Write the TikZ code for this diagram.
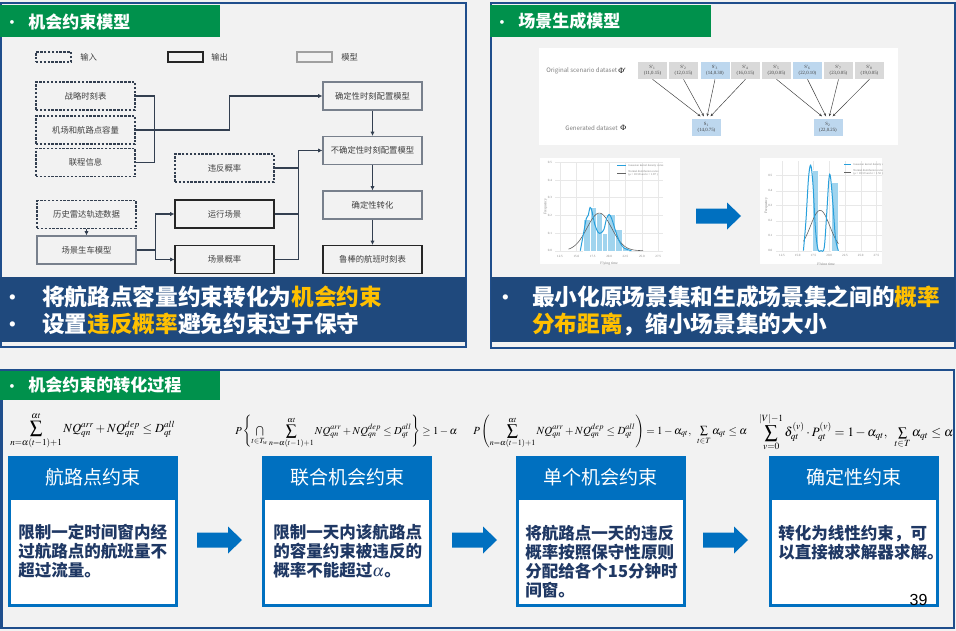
\documentclass[tikz,border=0pt]{standalone}
\usepackage{amsmath}
\usepackage{mathptmx}
\usepackage{graphicx}
\usepackage{fontspec}
\setmainfont{Noto Sans CJK SC}
\newfontfamily\serifl{Liberation Serif}
\newfontfamily\arialf{Liberation Sans}
\usetikzlibrary{arrows.meta,calc}

\definecolor{bgc}{RGB}{242,242,242}
\definecolor{panelc}{RGB}{31,78,140}
\definecolor{greenc}{RGB}{0,145,76}
\definecolor{bannerc}{RGB}{31,73,125}
\definecolor{goldc}{RGB}{255,192,0}
\definecolor{boxblue}{RGB}{0,112,192}
\definecolor{bodyblue}{RGB}{31,56,100}
\definecolor{flowdark}{RGB}{51,63,80}
\definecolor{flowblack}{RGB}{38,38,38}
\definecolor{flowgray}{RGB}{120,128,140}
\definecolor{legendgray}{RGB}{160,160,160}
\definecolor{flowtext}{RGB}{64,64,64}
\definecolor{sgray}{RGB}{217,217,217}
\definecolor{sblue}{RGB}{189,215,238}
\definecolor{gridc}{RGB}{232,232,232}
\definecolor{barc}{RGB}{160,212,238}
\definecolor{kdec}{RGB}{40,160,220}
\definecolor{normc}{RGB}{100,100,100}

\tikzset{
  flow/.style={minimum width=74.25pt, minimum height=21pt, inner sep=0pt,
    font=\fontsize{6.25}{7}\selectfont, text=flowtext, fill=bgc, line width=0.8pt},
  inbox/.style={flow, draw=flowdark, dash pattern=on 1.8pt off 1.1pt},
  outbox/.style={flow, draw=flowblack},
  modelbox/.style={flow, draw=flowgray},
  legendbox/.style={minimum width=26.25pt, minimum height=7.5pt, inner sep=0pt, line width=0.8pt, fill=bgc},
  legendtext/.style={anchor=west, inner sep=0pt, font=\fontsize{6.25}{7}\selectfont, text=flowtext},
  conn/.style={draw=flowdark, line width=0.8pt},
  arr/.style={conn, -{Latex[length=3.2pt,width=3.2pt]}},
  tabtext/.style={anchor=west, inner sep=0pt, text=white, font=\bfseries\fontsize{12.75}{14}\selectfont},
  tabdot/.style={inner sep=0pt, text=white, font=\bfseries\fontsize{10}{12}\selectfont},
  bannertext/.style={anchor=west, inner sep=0pt, text=white, font=\bfseries\fontsize{17}{19}\selectfont},
  bannerdot/.style={inner sep=0pt, text=white, font=\bfseries\fontsize{14}{16}\selectfont},
  boxhead/.style={fill=boxblue, text=white, minimum width=127.5pt, minimum height=32.25pt,
    inner sep=0pt, font=\fontsize{14.25}{16}\selectfont},
  boxbody/.style={fill=white, draw=boxblue, line width=2.25pt, minimum width=125.25pt,
    minimum height=79.9pt, inner sep=0pt},
  bodytext/.style={anchor=north west, align=left, inner sep=0pt, text=bodyblue,
    font=\bfseries\fontsize{12.4}{14.25}\selectfont},
  sbox/.style={minimum width=21.75pt, minimum height=12.75pt, inner sep=0pt, align=center,
    font=\serifl\fontsize{3.6}{4.6}\selectfont, text=flowtext},
  sarr/.style={draw=flowtext, line width=0.35pt, -{Stealth[length=2.2pt,width=1.8pt]}},
  dslabel/.style={anchor=west, inner sep=0pt, text=gray, font=\fontsize{4.6}{5}\selectfont},
  ticklab/.style={inner sep=0pt, text=gray, font=\serifl\fontsize{2.4}{3}\selectfont},
  gridline/.style={draw=gridc, line width=0.3pt},
  bar/.style={fill=barc, draw=white, line width=0.2pt},
  kde/.style={draw=kdec, line width=0.75pt},
  normal/.style={draw=normc, line width=0.45pt},
  tinylab/.style={anchor=west, inner sep=0pt, text=gray, font=\serifl\fontsize{2.2}{2.6}\selectfont},
  blockarrow/.pic={\fill[boxblue] (0,-7.5) -- (31,-7.5) -- (31,-13.5) -- (45,0) -- (31,13.5)
    -- (31,7.5) -- (0,7.5) -- cycle;},
  formula/.style={anchor=west, inner sep=0pt}
}

\begin{document}
\begin{tikzpicture}[x=0.75pt,y=-0.75pt]
\useasboundingbox (0,0) rectangle (956,631);
\fill[bgc] (0,0) rectangle (956,631);

% ---------- panel frames ----------
\draw[panelc, line width=1.5pt] (1,3) rectangle (466,347);
\draw[panelc, line width=1.5pt] (491,3) rectangle (954.5,348);
\draw[panelc, line width=1.5pt] (1.5,370) rectangle (953.5,628);

% ---------- panel: chance constraint model ----------
\fill[greenc] (0,5.5) rectangle (220,37);
\node[tabdot] (tabAd) at (12,24.5) {•};
\node[tabtext] (tabA) at (28,21.5) {机会约束模型};

\node[legendbox, draw=flowdark, dash pattern=on 1.8pt off 1.1pt] (lgIn) at (53.5,57) {};
\node[legendtext] (lgInT) at (80,57) {输入};
\node[legendbox, draw=flowblack] (lgOut) at (185.5,57) {};
\node[legendtext] (lgOutT) at (211,57) {输出};
\node[legendbox, draw=legendgray] (lgMod) at (314.5,57) {};
\node[legendtext] (lgModT) at (341,57) {模型};

\node[inbox] (sched) at (85.5,96) {战略时刻表};
\node[inbox] (cap) at (85.5,130) {机场和航路点容量};
\node[inbox] (link) at (85.5,162.5) {联程信息};
\node[modelbox] (detm) at (372.5,96) {确定性时刻配置模型};
\node[modelbox] (uncm) at (372.5,150.5) {不确定性时刻配置模型};
\node[inbox] (viol) at (224.5,168) {违反概率};
\node[modelbox] (conv) at (372.5,205) {确定性转化};
\node[inbox] (radar) at (86.5,214.5) {历史雷达轨迹数据};
\node[modelbox] (scen) at (86.5,250) {场景生车模型};
\node[outbox] (oper) at (224.5,214) {运行场景};
\node[outbox] (prob) at (224.5,259.5) {场景概率};
\node[outbox] (robust) at (372.5,259.5) {鲁棒的航班时刻表};

\draw[conn] (sched.east) -- ++(19,0) |- (link.east);
\draw[arr] (cap.east) -- ++(94,0) |- (detm.west);
\draw[arr] (detm.south) -- (uncm.north);
\draw[conn] (viol.east) -- ++(24,0);
\draw[conn] (oper.east) -- ++(24,0);
\draw[arr] (prob.east) -- ++(24,0) |- (uncm.west);
\draw[arr] (uncm.south) -- (conv.north);
\draw[arr] (conv.south) -- (robust.north);
\draw[arr] (radar.south) -- (scen.north);
\draw[arr] (scen.east) -- ++(19,0) |- (oper.west);
\draw[arr] (scen.east) -- ++(19,0) |- (prob.west);

\fill[bannerc] (0,276.5) rectangle (466,342);
\node[bannerdot] (bA1d) at (13,300) {•};
\node[bannertext] (bA1) at (42,297) {将航路点容量约束转化为\textcolor{goldc}{机会约束}};
\node[bannerdot] (bA2d) at (13,327) {•};
\node[bannertext] (bA2) at (42,324) {设置\textcolor{goldc}{违反概率}避免约束过于保守};

% ---------- panel: scenario generation model ----------
\fill[greenc] (490,5.5) rectangle (711,37);
\node[tabdot] (tabBd) at (502,24.5) {•};
\node[tabtext] (tabB) at (518,21.5) {场景生成模型};

\fill[white] (539,48) rectangle (898,145);
\node[dslabel] (orig) at (546,71) {Original scenario dataset};
\node[anchor=west, inner sep=0pt, font=\serifl\fontsize{6}{6}\selectfont] (phiA) at (618,71) {Φ′};
\node[dslabel] (gen) at (565,128) {Generated dataset};
\node[anchor=west, inner sep=0pt, font=\serifl\fontsize{6}{6}\selectfont] (phiB) at (620,128) {Φ};

\node[sbox, fill=sgray] (sa) at (652.5,70.5) {S′\textsubscript{1}\\(11,0.15)};
\node[sbox, fill=sgray] (sb) at (683.5,70.5) {S′\textsubscript{2}\\(12,0.15)};
\node[sbox, fill=sblue] (sc) at (715,70.5) {S′\textsubscript{3}\\(14,0.30)};
\node[sbox, fill=sgray] (sd) at (745.5,70.5) {S′\textsubscript{4}\\(16,0.15)};
\node[sbox, fill=sgray] (se) at (776.5,70.5) {S′\textsubscript{5}\\(20,0.05)};
\node[sbox, fill=sblue] (sf) at (807.5,70.5) {S′\textsubscript{6}\\(22,0.10)};
\node[sbox, fill=sgray] (sg) at (838.5,70.5) {S′\textsubscript{7}\\(23,0.05)};
\node[sbox, fill=sgray] (sh) at (869.5,70.5) {S′\textsubscript{8}\\(19,0.05)};
\node[sbox, fill=sblue] (gA) at (706.5,127.5) {S\textsubscript{1}\\(14,0.75)};
\node[sbox, fill=sblue] (gB) at (828,127.5) {S\textsubscript{2}\\(22,0.25)};

\draw[sarr] (sa.south) -- ([xshift=-4.5pt,yshift=1.8pt]gA.north);
\draw[sarr] (sb.south) -- ([xshift=-2pt,yshift=1.8pt]gA.north);
\draw[sarr] (sc.south) -- ([xshift=0.5pt,yshift=1.8pt]gA.north);
\draw[sarr] (sd.south) -- ([xshift=3pt,yshift=1.8pt]gA.north);
\draw[sarr] (se.south) -- ([xshift=-4.5pt,yshift=1.8pt]gB.north);
\draw[sarr] (sf.south) -- ([xshift=-1.5pt,yshift=1.8pt]gB.north);
\draw[sarr] (sg.south) -- ([xshift=1pt,yshift=1.8pt]gB.north);
\draw[sarr] (sh.south) -- ([xshift=3.5pt,yshift=1.8pt]gB.north);

% histogram of the original scenarios
\fill[white] (540,158) rectangle (680,264);
\begin{scope}[shift={(478.125,250.7)},x=4.9125pt,y=132.5pt]
  \foreach \t/\l in {12.5/12.5,15/15.0,17.5/17.5,20/20.0,22.5/22.5,25/25.0,27.5/27.5}{
    \draw[gridline] (\t,0) -- (\t,0.5);
    \node[ticklab] at (\t,-0.03) {\l};}
  \foreach \f/\l in {0/0.0,0.1/0.1,0.2/0.2,0.3/0.3,0.4/0.4,0.5/0.5}{
    \draw[gridline] (11.8,\f) -- (28.2,\f);
    \node[ticklab, anchor=east] at (11.3,\f) {\l};}
  \foreach \a/\b/\h in {16.06/17.08/0.18,17.08/17.99/0.245,17.99/18.86/0.21,18.86/19.72/0.10,
      19.72/20.89/0.207,20.89/21.91/0.12,21.91/22.92/0.02}
    \filldraw[bar] (\a,0) rectangle (\b,\h);
  \draw[normal] plot[domain=13.8:25.2, samples=60, smooth] (\x,{0.213*exp(-((\x-18.5)^2)/(2*1.87^2))});
  \draw[kde] plot[smooth, tension=0.6] coordinates {(15.6,0) (16.1,0.1) (16.5,0.18) (16.8,0.2)
    (17.1,0.245) (17.4,0.22) (17.8,0.15) (18.3,0.105) (18.7,0.10) (19.2,0.12) (19.6,0.18)
    (20.0,0.205) (20.4,0.18) (21.0,0.11) (21.6,0.05) (22.3,0.015) (23.4,0)};
  \node[ticklab, font=\serifl\fontsize{2.8}{3}\selectfont] at (20,-0.075) {Flying time};
  \node[ticklab, font=\serifl\fontsize{2.8}{3}\selectfont, rotate=90] at (10.3,0.25) {Frequency};
\end{scope}
\draw[kde] (617,166) -- (626,166);
\node[tinylab] (lgK1) at (628,166) {Gaussian kernel density curve};
\draw[normal] (617,173) -- (626,173);
\node[tinylab] (lgN1) at (628,171.3) {Normal distribution curve};
\node[tinylab] (lgN2) at (628,174.7) {(μ = 18.58 and σ = 1.87 )};

\pic at (696,216) {blockarrow};

% histogram of the generated scenarios
\fill[white] (760,158) rectangle (882,264);
\begin{scope}
\clip (760,158) rectangle (882,264);
\begin{scope}[shift={(703.25,250.7)},x=4.725pt,y=112.5pt]
  \foreach \t/\l in {12.5/12.5,15/15.0,17.5/17.5,20/20.0,22.5/22.5,25/25.0,27.5/27.5}{
    \draw[gridline] (\t,0) -- (\t,0.6);
    \node[ticklab] at (\t,-0.035) {\l};}
  \foreach \f/\l in {0/0.0,0.1/0.1,0.2/0.2,0.3/0.3,0.4/0.4,0.5/0.5}{
    \draw[gridline] (11.6,\f) -- (28.4,\f);
    \node[ticklab, anchor=east] at (11.0,\f) {\l};}
  \filldraw[bar] (17.3,0) rectangle (18.2,0.538);
  \filldraw[bar] (20.3,0) rectangle (21.4,0.46);
  \draw[normal] plot[domain=15.9:21.45, samples=50, smooth] (\x,{0.269*exp(-((\x-18.55)^2)/(2*1.55^2))});
  \draw[kde] plot[smooth, tension=0.55] coordinates {(15.9,0) (16.3,0.2) (16.7,0.48)
    (17.05,0.57) (17.4,0.45) (17.8,0.15) (18.2,0.01) (18.7,0) (19.2,0.02) (19.6,0.25)
    (19.95,0.48) (20.2,0.49) (20.6,0.3) (21.0,0.08) (21.45,0)};
  \node[ticklab, font=\serifl\fontsize{2.8}{3}\selectfont] at (19.5,-0.09) {Flying time};
  \node[ticklab, font=\serifl\fontsize{2.8}{3}\selectfont, rotate=90] at (10.0,0.3) {Frequency};
\end{scope}
\draw[kde] (844,165) -- (851,165);
\node[tinylab] (lgK2) at (853,165) {Gaussian kernel density curve};
\draw[normal] (844,172) -- (851,172);
\node[tinylab] (lgN3) at (853,170.3) {Normal distribution curve};
\node[tinylab] (lgN4) at (853,173.7) {(μ = 18.59 and σ = 1.50 )};
\end{scope}

\fill[bannerc] (491,277) rectangle (954.5,342);
\node[bannerdot] (bB1d) at (506,300) {•};
\node[bannertext] (bB1) at (532,297) {最小化原场景集和生成场景集之间的\textcolor{goldc}{概率}};
\node[bannertext] (bB2) at (532,324) {\textcolor{goldc}{分布距离}，缩小场景集的大小};

% ---------- panel: transformation of chance constraints ----------
\fill[greenc] (0,371) rectangle (220,400);
\node[tabdot] (tabCd) at (12,388.5) {•};
\node[tabtext] (tabC) at (28,385.5) {机会约束的转化过程};

\node[formula] (f1) at (10,431) {\resizebox{123.75pt}{!}{$\displaystyle\sum_{n=\alpha(t-1)+1}^{\alpha t} NQ_{qn}^{arr}+NQ_{qn}^{dep}\le D_{qt}^{all}$}};
\node[formula] (f2) at (235,432) {\resizebox{166.5pt}{!}{$\displaystyle P\left\{\textstyle\bigcap\limits_{t\in T_w}\displaystyle\sum_{n=\alpha(t-1)+1}^{\alpha t} NQ_{qn}^{arr}+NQ_{qn}^{dep}\le D_{qt}^{all}\right\}\ge 1-\alpha$}};
\node[formula] (f3) at (473,432) {\resizebox{205.5pt}{!}{$\displaystyle P\left(\sum_{n=\alpha(t-1)+1}^{\alpha t} NQ_{qn}^{arr}+NQ_{qn}^{dep}\le D_{qt}^{all}\right)=1-\alpha_{qt},\ \ \textstyle\sum\limits_{t\in T}\alpha_{qt}\le\alpha$}};
\node[formula] (f4) at (759,432) {\resizebox{145.5pt}{!}{$\displaystyle\sum_{v=0}^{|V|-1}\delta_{qt}^{(v)}\cdot P_{qt}^{(v)}=1-\alpha_{qt},\ \ \textstyle\sum\limits_{t\in T}\alpha_{qt}\le\alpha$}};

\node[boxbody] (b1) at (93,552.25) {};
\node[boxhead] (h1) at (93,477.5) {航路点约束};
\node[bodytext] (t1) at (18,524) {限制一定时间窗内经\\过航路点的航班量不\\超过流量。};

\node[boxbody] (b2) at (347,552.25) {};
\node[boxhead] (h2) at (347,477.5) {联合机会约束};
\node[bodytext] (t2) at (273,524) {限制一天内该航路点\\的容量约束被违反的\\概率不能超过$\boldsymbol{\alpha}$。};

\node[boxbody] (b3) at (600.5,552.25) {};
\node[boxhead] (h3) at (600.5,477.5) {单个机会约束};
\node[bodytext] (t3) at (525,525) {将航路点一天的违反\\概率按照保守性原则\\分配给各个15分钟时\\间窗。};

\node[boxbody] (b4) at (853.5,552.25) {};
\node[boxhead] (h4) at (853.5,477.5) {确定性约束};
\node[bodytext] (t4) at (778,525) {转化为线性约束，可\\以直接被求解器求解。};

\pic at (197,540) {blockarrow};
\pic at (452,540) {blockarrow};
\pic at (703,540) {blockarrow};

\node[inner sep=0pt, font=\arialf\fontsize{12}{14}\selectfont] (pg) at (918.5,600) {39};
\end{tikzpicture}
\end{document}
